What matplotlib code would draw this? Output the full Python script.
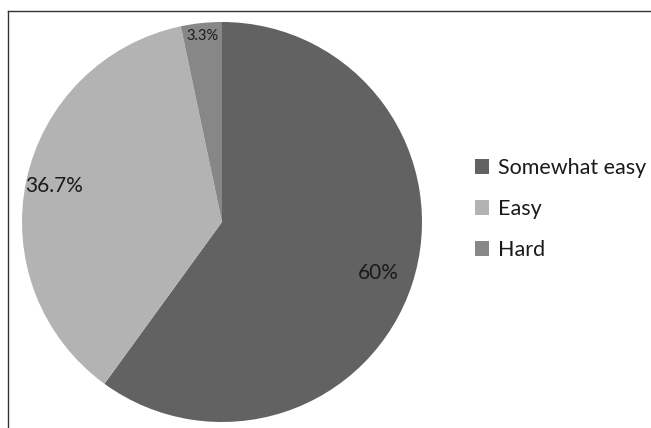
import numpy as np
import matplotlib.pyplot as plt
from matplotlib.lines import Line2D
from matplotlib.patches import Patch

plt.rcParams['font.family'] = ['Lato', 'DejaVu Sans']

# data
labels = ['Somewhat easy', 'Easy', 'Hard']
shares = [60, 36.7, 3.3]
pct_text = ['60%', '36.7%', '3.3%']
colors = ['#626262', '#b3b3b3', '#878787']

fig = plt.figure(figsize=(6.51, 4.28), dpi=100)
W, H = 651, 428

# pie axes: centre (222, 222) px, radius 200 px
ax = fig.add_axes([22 / W, 6 / H, 400 / W, 400 / H])
wedges, _ = ax.pie(shares, colors=colors, startangle=90, counterclock=False,
                   radius=1, wedgeprops=dict(linewidth=0))
ax.set_xlim(-1, 1)
ax.set_ylim(-1, 1)
ax.set_aspect('equal')
ax.axis('off')

# percentage labels at the wedge mid-angles
label_dist = [0.82, 0.86, 0.935]
label_size = [15, 15, 10.5]
for w, txt, d, s in zip(wedges, pct_text, label_dist, label_size):
    mid = np.deg2rad((w.theta1 + w.theta2) / 2)
    ax.text(d * np.cos(mid), d * np.sin(mid), txt, ha='center', va='center',
            fontsize=s, color='#1a1a1a')

# frame lines (left and top) of the original screenshot
fig.add_artist(Line2D([8 / W, 8 / W], [0, 1 - 11 / H], color='#333333', lw=1))
fig.add_artist(Line2D([8 / W, 1], [1 - 11 / H, 1 - 11 / H], color='#333333', lw=1))

handles = [Patch(facecolor=c, edgecolor='none') for c in colors]
fig.legend(handles, labels, loc='center left', bbox_to_anchor=(456 / W, 1 - 209 / H),
           frameon=False, fontsize=15.5, handlelength=0.65, handleheight=0.65,
           handletextpad=0.4, labelspacing=0.98, labelcolor='#1a1a1a')

fig.savefig('out.png', dpi=100)
